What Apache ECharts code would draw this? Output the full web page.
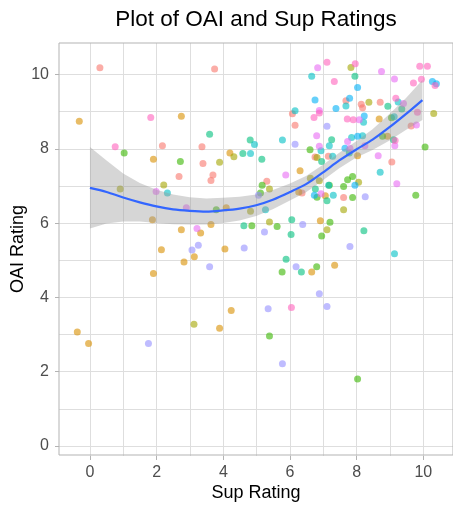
<!DOCTYPE html>
<html>
<head>
<meta charset="utf-8">
<script src="https://cdn.jsdelivr.net/npm/echarts@6/dist/echarts.min.js"></script>
<style>
  html, body { margin: 0; padding: 0; background: #ffffff; }
  #chart { width: 453px; height: 507px; }
</style>
</head>
<body>
<div id="chart"></div>
<script>
// Jittered ratings, one array of [Sup, OAI] pairs per group
const group1 = [[0.30,10.18],[2.18,8.08],[3.75,10.15],[3.37,8.05],[3.40,7.60],[2.68,7.25],[3.70,7.29],[3.64,7.14],[6.09,8.94],[6.17,8.63],[5.32,7.12],[6.38,6.80],[7.70,9.29],[8.16,9.20],[8.20,9.10],[8.73,9.25],[9.66,8.61],[6.77,7.77],[7.17,7.79],[9.08,7.64],[7.63,6.68]];
const group2 = [[-0.32,8.74],[1.91,7.71],[2.75,8.87],[4.21,7.88],[6.32,7.40],[8.70,8.80],[8.95,8.33],[8.05,7.81],[6.28,6.83],[4.10,6.40],[2.75,5.81],[3.33,5.72],[3.64,5.95],[2.83,4.94],[3.14,5.08],[4.06,5.29],[4.25,3.63],[3.90,3.15],[-0.38,3.05],[-0.04,2.74],[1.88,6.08],[2.15,5.27],[1.91,4.63],[7.08,6.73],[6.93,6.05],[6.67,4.67],[7.36,4.85]];
const group3 = [[3.90,7.63],[4.33,7.78],[7.85,10.19],[8.39,9.25],[10.34,8.95],[6.83,7.76],[5.40,6.91],[4.83,6.31],[5.40,6.02],[3.13,3.26],[0.91,6.91],[2.22,7.02],[6.63,7.20],[6.90,7.13],[8.08,7.09],[7.63,6.35],[7.13,5.81]];
const group4 = [[1.03,7.88],[2.72,7.65],[6.62,7.97],[9.07,8.83],[8.80,8.33],[10.08,8.04],[7.90,7.25],[5.18,7.01],[5.13,6.80],[3.80,6.35],[4.87,5.92],[5.63,5.90],[5.78,4.67],[5.40,2.94],[8.05,1.78],[9.80,6.74],[7.20,7.01],[7.63,6.98],[6.83,6.69],[7.90,6.68],[7.22,6.01],[6.97,5.64],[6.82,4.81],[7.75,7.16]];
const group5 = [[3.60,8.39],[4.60,7.87],[4.82,8.23],[5.17,7.71],[7.97,9.95],[8.96,9.14],[9.38,9.07],[7.27,8.24],[6.97,7.65],[9.13,8.24],[7.80,7.88],[4.63,5.92],[6.07,6.08],[6.05,5.68],[5.90,5.01],[6.36,4.67],[6.78,6.91],[7.13,6.59],[8.24,5.78]];
const group6 = [[4.83,7.87],[4.95,8.11],[5.79,8.23],[6.17,9.02],[6.67,9.95],[9.27,9.26],[7.70,9.15],[8.23,8.71],[9.15,8.86],[7.20,8.08],[7.87,8.30],[8.20,8.35],[6.95,7.94],[7.30,7.79],[8.73,7.36],[2.33,6.80],[5.28,6.35],[7.18,7.01],[7.32,6.74],[9.16,5.16]];
const group7 = [[8.05,9.65],[10.30,9.81],[10.42,9.75],[6.77,9.31],[7.81,9.36],[7.40,9.08],[8.25,8.88],[8.05,8.33],[7.67,8.01],[7.97,7.01],[6.75,6.74]];
const group8 = [[6.17,8.12],[7.13,8.60],[5.07,6.74],[5.25,5.75],[6.40,5.95],[3.07,5.26],[3.26,5.39],[4.64,5.32],[3.60,4.81],[6.20,4.81],[5.36,3.68],[5.79,2.19],[1.76,2.74],[7.13,3.74],[8.28,6.70],[7.82,5.36],[6.90,4.08]];
const group9 = [[5.89,7.29],[6.85,10.18],[8.77,10.08],[9.16,9.88],[9.43,9.22],[6.90,9.03],[8.10,8.78],[9.82,8.64],[6.82,8.35],[7.75,8.19],[7.82,8.01],[6.90,8.06],[8.27,8.08],[9.17,8.08],[8.67,7.81],[9.23,7.05],[2.90,6.40],[3.22,5.84],[1.99,6.84],[6.95,6.78]];
const group10 = [[1.83,8.84],[0.76,8.05],[7.13,10.33],[7.98,10.29],[9.92,10.22],[10.15,10.22],[7.35,9.81],[9.73,9.77],[9.97,9.87],[10.38,9.70],[9.20,9.36],[9.85,8.98],[6.90,8.96],[6.74,8.84],[7.74,8.80],[7.92,8.78],[6.06,3.71],[9.18,8.22]];

// Loess fit with its confidence limits
const smoothX     = [0, 0.5, 1, 1.5, 2, 2.5, 3, 3.5, 4, 4.5, 5, 5.5, 6, 6.5, 7, 7.5, 8, 8.5, 9, 9.5, 10];
const smoothFit   = [6.94, 6.83, 6.68, 6.55, 6.44, 6.36, 6.32, 6.30, 6.33, 6.38, 6.47, 6.62, 6.82, 7.04, 7.35, 7.68, 7.97, 8.24, 8.57, 8.93, 9.31];
const smoothLower = [5.84, 5.98, 6.03, 6.03, 5.99, 5.96, 5.95, 5.95, 5.99, 6.06, 6.18, 6.36, 6.59, 6.82, 7.14, 7.47, 7.75, 7.96, 8.21, 8.50, 8.77];
const smoothUpper = [8.04, 7.68, 7.33, 7.07, 6.89, 6.76, 6.69, 6.65, 6.67, 6.70, 6.76, 6.88, 7.05, 7.26, 7.56, 7.89, 8.19, 8.52, 8.93, 9.36, 9.85];

// Axis ticks
const xTicks = [0, 2, 4, 6, 8, 10];
const yTicks = [0, 2, 4, 6, 8, 10];

const groups = [group1, group2, group3, group4, group5, group6, group7, group8, group9, group10];
const palette = ['#F8766D', '#D89000', '#A3A500', '#39B600', '#00BF7D', '#00BFC4', '#00B0F6', '#9590FF', '#E76BF3', '#FF62BC'];

const FONT = "'Liberation Sans', Arial, sans-serif";
const GRID_LINE = '#DEDEDE';
const BORDER = '#B3B3B3';

const chart = echarts.init(document.getElementById('chart'), null, { renderer: 'canvas' });

const scatterSeries = groups.map((pts, i) => ({
  type: 'scatter',
  xAxisIndex: 0,
  yAxisIndex: 0,
  data: pts,
  symbol: 'circle',
  symbolSize: 7,
  itemStyle: { color: palette[i], opacity: 0.6 },
  emphasis: { disabled: true },
  z: 2
}));

const bandSeries = {
  type: 'custom',
  xAxisIndex: 0,
  yAxisIndex: 0,
  data: [[smoothX[0], smoothFit[0]]],
  renderItem: function (params, api) {
    const pts = [];
    for (let i = 0; i < smoothX.length; i++) pts.push(api.coord([smoothX[i], smoothUpper[i]]));
    for (let i = smoothX.length - 1; i >= 0; i--) pts.push(api.coord([smoothX[i], smoothLower[i]]));
    return {
      type: 'polygon',
      shape: { points: pts },
      style: { fill: 'rgba(153,153,153,0.4)', stroke: null }
    };
  },
  silent: true,
  z: 3
};

const lineSeries = {
  type: 'line',
  xAxisIndex: 0,
  yAxisIndex: 0,
  data: smoothX.map((x, i) => [x, smoothFit[i]]),
  showSymbol: false,
  smooth: 0.3,
  lineStyle: { color: '#3366FF', width: 2.2 },
  silent: true,
  z: 4
};

const tickLabel = { color: '#4D4D4D', fontSize: 16, fontFamily: FONT };
const titleFont = { color: '#000000', fontSize: 18, fontFamily: FONT };

chart.setOption({
  animation: false,
  backgroundColor: '#ffffff',
  title: {
    text: 'Plot of OAI and Sup Ratings',
    left: 251,
    top: 3,
    textAlign: 'center',
    textStyle: { color: '#000000', fontSize: 22.5, fontWeight: 'normal', fontFamily: FONT }
  },
  grid: [
    // plotting panel
    { left: 59, right: -1, top: 43, bottom: 51, show: true, borderColor: BORDER, borderWidth: 1, backgroundColor: 'transparent', z: 5 },
    // vertical grid lines, x ticks and labels
    { left: 90, right: 29.667, top: 43, bottom: 51 },
    // horizontal grid lines, y ticks and labels
    { left: 59, right: -1, top: 74.57, bottom: 61 }
  ],
  xAxis: [
    {
      gridIndex: 0, type: 'value', min: -0.93, max: 10.92,
      axisLine: { show: false }, axisTick: { show: false }, axisLabel: { show: false }, splitLine: { show: false },
      name: 'Sup Rating', nameLocation: 'middle', nameGap: 29, nameTextStyle: titleFont
    },
    {
      gridIndex: 1, type: 'value', min: xTicks[0], max: xTicks[xTicks.length - 1], interval: xTicks[1] - xTicks[0],
      axisLine: { show: false },
      axisTick: { show: true, length: 4, lineStyle: { color: BORDER, width: 1 } },
      axisLabel: Object.assign({ margin: 9 }, tickLabel),
      splitLine: { show: true, lineStyle: { color: GRID_LINE, width: 1 } },
      minorTick: { show: false, splitNumber: 2 },
      minorSplitLine: { show: true, lineStyle: { color: GRID_LINE, width: 1 } }
    },
    { gridIndex: 2, type: 'value', min: 0, max: 1, show: false }
  ],
  yAxis: [
    {
      gridIndex: 0, type: 'value', min: -0.27, max: 10.85,
      axisLine: { show: false }, axisTick: { show: false }, axisLabel: { show: false }, splitLine: { show: false },
      name: 'OAI Rating', nameLocation: 'middle', nameGap: 32, nameRotate: 90, nameTextStyle: titleFont
    },
    { gridIndex: 1, type: 'value', min: 0, max: 1, show: false },
    {
      gridIndex: 2, type: 'value', min: yTicks[0], max: yTicks[yTicks.length - 1], interval: yTicks[1] - yTicks[0],
      axisLine: { show: false },
      axisTick: { show: true, length: 4, lineStyle: { color: BORDER, width: 1 } },
      axisLabel: Object.assign({ margin: 10 }, tickLabel),
      splitLine: { show: true, lineStyle: { color: GRID_LINE, width: 1 } },
      minorTick: { show: false, splitNumber: 2 },
      minorSplitLine: { show: true, lineStyle: { color: GRID_LINE, width: 1 } }
    }
  ],
  series: scatterSeries.concat([bandSeries, lineSeries])
});
</script>
</body>
</html>
